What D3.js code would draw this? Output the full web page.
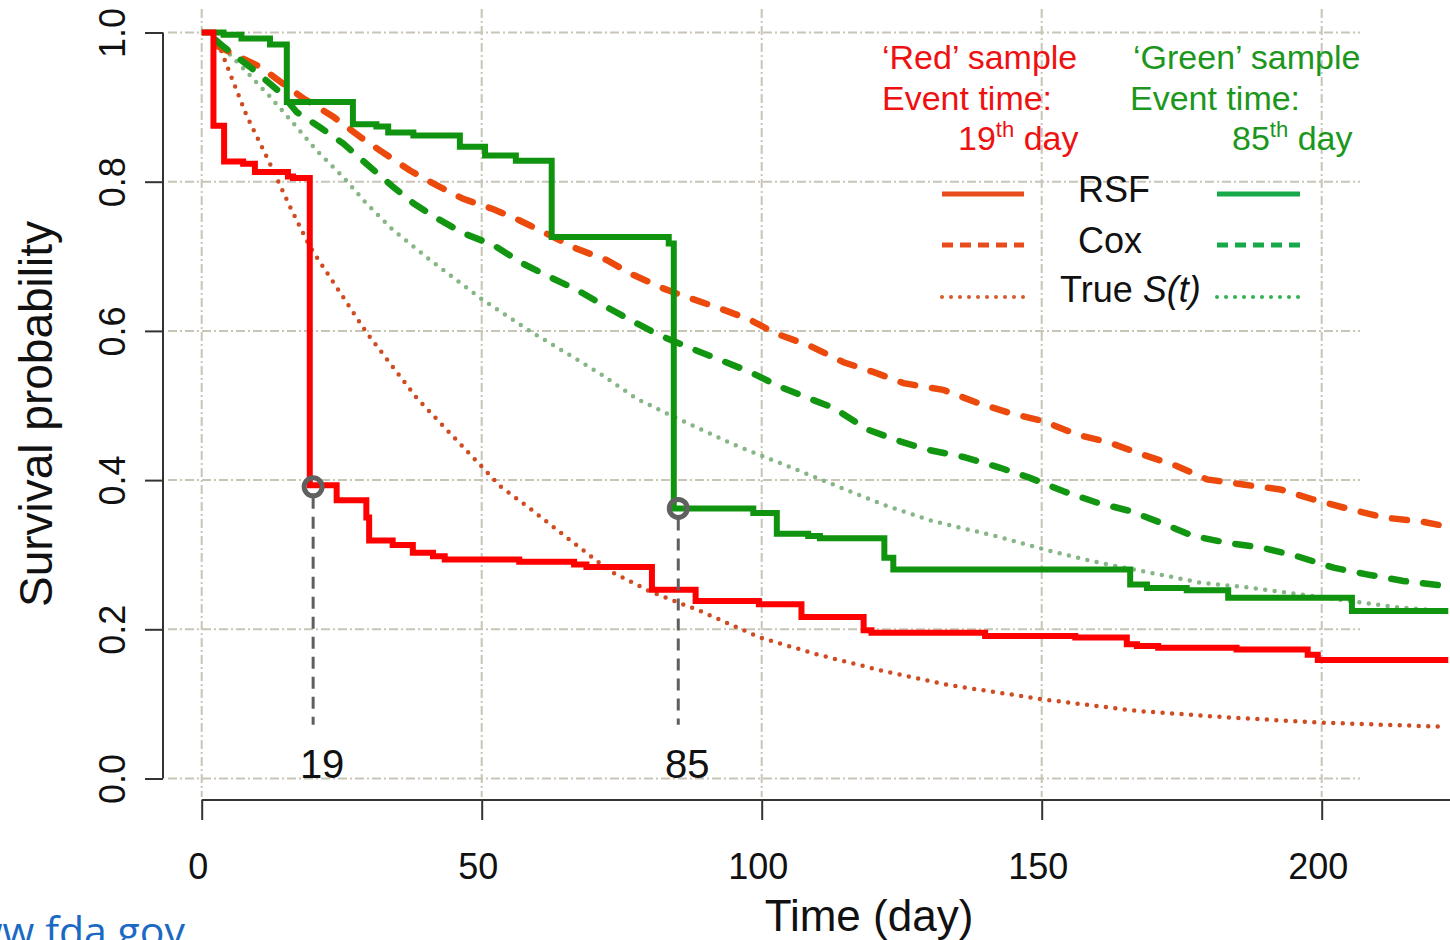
<!DOCTYPE html>
<html>
<head>
<meta charset="utf-8">
<script src="https://cdn.jsdelivr.net/npm/d3@7"></script>
<style>
  html, body { margin: 0; padding: 0; background: #ffffff; overflow: hidden; }
  svg { display: block; font-family: "Liberation Sans", Arial, sans-serif; }
</style>
</head>
<body>
<svg id="chart" width="1450" height="940"></svg>
<script>
// ---------- DATA ----------
const xTicks = [0, 50, 100, 150, 200];
const xTickLabels = ["0", "50", "100", "150", "200"];
const yTicks = [0, 0.2, 0.4, 0.6, 0.8, 1.0];
const yTickLabels = ["0.0", "0.2", "0.4", "0.6", "0.8", "1.0"];

// RSF step curves: [day, survival] knots (step-after)
const rsfRed = [[0,1.0],[2.1,0.875],[4.0,0.827],[7.4,0.824],[9.5,0.813],[15.4,0.807],[16.3,0.805],
  [19.3,0.393],[24.1,0.373],[29.4,0.35],[29.9,0.319],[34.1,0.313],[37.7,0.3025],[41.3,0.298],[43.4,0.2935],
  [56.7,0.2906],[66.5,0.287],[68.7,0.2835],[80.4,0.253],[88.2,0.238],[99.5,0.2335],[107.1,0.2165],
  [118.2,0.1987],[119.6,0.1955],[139.9,0.191],[156,0.189],[165.2,0.18],[167,0.1777],[170.8,0.1754],
  [184.8,0.173],[197.5,0.166],[199.3,0.159],[222.6,0.159]];
const rsfGreen = [[0,1.0],[3.9,0.997],[7.1,0.992],[12.2,0.984],[15.2,0.907],[27,0.877],[31.2,0.874],
  [33.3,0.866],[37.8,0.862],[46.1,0.847],[50.6,0.835],[56.1,0.828],[62.5,0.726],[83.4,0.717],[84.3,0.362],
  [98.5,0.356],[102.7,0.328],[108.3,0.325],[110.4,0.322],[121.9,0.296],[123.5,0.28],[165.8,0.26],
  [168.8,0.2554],[175.9,0.2522],[183.3,0.2424],[205.4,0.2246],[222.6,0.2246]];

// Cox curves
const coxRed = [[2.5,0.985],[3,0.981],[10.4,0.954],[18.1,0.912],[23.5,0.887],[28.3,0.86],[31.8,0.842],
  [37.2,0.815],[42,0.795],[46.7,0.777],[52.1,0.763],[56.8,0.748],[62.2,0.728],[67,0.71],[72.3,0.695],
  [77.1,0.675],[82.4,0.657],[86,0.647],[92.6,0.63],[97.9,0.615],[102.7,0.596],[108.6,0.58],[114.6,0.558],
  [119.9,0.545],[125.3,0.53],[132.4,0.521],[138.4,0.504],[144.3,0.49],[150.3,0.479],[156.3,0.461],
  [162.2,0.45],[168.1,0.434],[174.1,0.419],[179.5,0.401],[186,0.394],[192.6,0.3875],[198.5,0.374],
  [205,0.361],[211,0.35],[218.1,0.344],[222.3,0.338]];
const coxGreen = [[2.5,0.99],[3.9,0.981],[8.6,0.954],[14,0.92],[17,0.893],[21.1,0.873],[25.3,0.851],
  [29.4,0.824],[34.2,0.793],[37.8,0.771],[42,0.751],[46.7,0.731],[52.1,0.715],[57.4,0.69],[62.2,0.672],
  [67,0.655],[72.3,0.632],[77.7,0.61],[81.8,0.594],[86.6,0.579],[92.6,0.561],[97.9,0.545],[103.3,0.525],
  [108.6,0.509],[112.8,0.497],[118.8,0.468],[124.7,0.452],[129.5,0.441],[136,0.431],[142.6,0.4165],
  [147.9,0.403],[153.9,0.385],[159.8,0.37],[165.8,0.3585],[171.2,0.343],[177.1,0.325],[183.1,0.316],
  [189.6,0.309],[195.6,0.298],[202.1,0.2826],[208,0.2737],[214.6,0.2647],[222.3,0.258]];

// True S(t)
const trueRed = [[2.5,0.985],[3.3,0.979],[5.05,0.945],[8,0.889],[12.2,0.824],[15.8,0.766],[19.3,0.713],
  [29.5,0.597],[38.4,0.51],[53.3,0.392],[59.2,0.3585],[65.2,0.323],[72.9,0.278],[80,0.251],[89,0.2246],
  [99.7,0.189],[109.8,0.1665],[121.7,0.144],[133.6,0.125],[150.3,0.106],[167,0.0906],[183.6,0.0817],
  [199.7,0.075],[222.3,0.0692]];
const trueGreen = [[2.7,0.989],[7.4,0.952],[12.2,0.914],[16.4,0.878],[20.5,0.842],[25.3,0.806],
  [29.4,0.771],[34.2,0.735],[40.8,0.695],[50.3,0.641],[59.2,0.597],[65.2,0.57],[71.1,0.543],[77.7,0.509],
  [84.8,0.483],[94.9,0.448],[103.9,0.421],[112.8,0.394],[121.7,0.367],[130.6,0.345],[142.3,0.324],
  [151.5,0.305],[160.4,0.289],[169.3,0.276],[178.3,0.2625],[187.2,0.2558],[196.1,0.247],[205,0.238],
  [214,0.229],[222.3,0.2246]];

// Event markers
const eventLabels = ["19", "85"];
const eventDays = [19.9, 85.1];
const eventSurv = [0.391, 0.362];
const eventLineBottom = 0.072;

// ---------- DRAWING ----------
const svg = d3.select("#chart");
const x = d3.scaleLinear().domain([0, 200]).range([201.7, 1321.7]);
const y = d3.scaleLinear().domain([0, 1]).range([778.5, 32.5]);

const gridColor = "#c8c4b6";
const gridDash = "9,3,2,3";

// Grid
const grid = svg.append("g");
grid.selectAll("line.v").data(xTicks).join("line")
  .attr("x1", d => x(d)).attr("x2", d => x(d)).attr("y1", 9).attr("y2", 797)
  .attr("stroke", gridColor).attr("stroke-width", 2).attr("stroke-dasharray", gridDash);
grid.selectAll("line.h").data(yTicks).join("line")
  .attr("x1", 168).attr("x2", 1360).attr("y1", d => y(d)).attr("y2", d => y(d))
  .attr("stroke", gridColor).attr("stroke-width", 2).attr("stroke-dasharray", gridDash);

// Axes
const xAxis = svg.append("g").attr("transform", "translate(0,800)")
  .call(d3.axisBottom(x).tickValues(xTicks).tickSize(20).tickSizeOuter(0)
    .tickFormat((d, i) => xTickLabels[i]));
xAxis.select(".domain").remove();
xAxis.append("line").attr("x1", x(0)).attr("x2", 1450).attr("y1", 0).attr("y2", 0)
  .attr("stroke", "#333").attr("stroke-width", 2);
xAxis.selectAll(".tick line").attr("stroke", "#333").attr("stroke-width", 2);
xAxis.selectAll(".tick text").attr("y", 79).attr("dy", 0).attr("x", -4)
  .attr("font-size", 36).attr("fill", "#111")
  .attr("font-family", "'Liberation Sans', Arial, sans-serif");

const yAxis = svg.append("g").attr("transform", "translate(163,0)")
  .call(d3.axisLeft(y).tickValues(yTicks).tickSize(18).tickSizeOuter(0)
    .tickFormat((d, i) => yTickLabels[i]));
yAxis.select(".domain").remove();
yAxis.append("line").attr("x1", 0).attr("x2", 0).attr("y1", y(1)).attr("y2", y(0))
  .attr("stroke", "#333").attr("stroke-width", 2);
yAxis.selectAll(".tick line").attr("stroke", "#333").attr("stroke-width", 2);
yAxis.selectAll(".tick text").attr("x", null).attr("dy", 0)
  .attr("transform", "translate(-38,0) rotate(-90)").attr("text-anchor", "middle")
  .attr("font-size", 36).attr("fill", "#111")
  .attr("font-family", "'Liberation Sans', Arial, sans-serif");

// Axis titles
svg.append("text").attr("x", 869).attr("y", 931).attr("text-anchor", "middle")
  .attr("font-size", 44).attr("fill", "#111").text("Time (day)");
svg.append("text").attr("transform", "translate(52,414) rotate(-90)").attr("text-anchor", "middle")
  .attr("font-size", 46).attr("fill", "#111").text("Survival probability");

// Lines
const lineLin = d3.line().x(d => x(d[0])).y(d => y(d[1]));
const lineStep = d3.line().x(d => x(d[0])).y(d => y(d[1])).curve(d3.curveStepAfter);

const curves = svg.append("g").attr("fill", "none");
curves.append("path").datum(trueRed).attr("d", lineLin)
  .attr("stroke", "#cf4b22").attr("stroke-width", 4.5).attr("stroke-linecap", "round")
  .attr("stroke-dasharray", "0,9.5");
curves.append("path").datum(trueGreen).attr("d", lineLin)
  .attr("stroke", "#86b586").attr("stroke-width", 4.5).attr("stroke-linecap", "round")
  .attr("stroke-dasharray", "0,9.5");
curves.append("path").datum(coxRed).attr("d", lineLin)
  .attr("stroke", "#ec4a0c").attr("stroke-width", 6.5).attr("stroke-linecap", "round")
  .attr("stroke-dasharray", "15,17");
curves.append("path").datum(coxGreen).attr("d", lineLin)
  .attr("stroke", "#129612").attr("stroke-width", 6.5).attr("stroke-linecap", "round")
  .attr("stroke-dasharray", "15,17");
curves.append("path").datum(rsfGreen).attr("d", lineStep)
  .attr("stroke", "#109410").attr("stroke-width", 6);
curves.append("path").datum(rsfRed).attr("d", lineStep)
  .attr("stroke", "#ff0000").attr("stroke-width", 6);

// Event markers
const ev = svg.append("g");
eventDays.forEach((d, i) => {
  ev.append("line").attr("x1", x(d)).attr("x2", x(d))
    .attr("y1", y(eventSurv[i]) + 10).attr("y2", y(eventLineBottom))
    .attr("stroke", "#5f5f5f").attr("stroke-width", 3).attr("stroke-dasharray", "12,8");
  ev.append("circle").attr("cx", x(d)).attr("cy", y(eventSurv[i])).attr("r", 9)
    .attr("fill", "none").attr("stroke", "#606060").attr("stroke-width", 5);
  ev.append("text").attr("x", x(d) + 9).attr("y", 778).attr("text-anchor", "middle")
    .attr("font-size", 40).attr("fill", "#111").text(eventLabels[i]);
});

// Legend (annotation block)
const redTxt = "#ee1111", greenTxt = "#1c961c";
const leg = svg.append("g").attr("font-size", 34);
leg.append("text").attr("x", 882).attr("y", 69).attr("fill", redTxt).text("\u2018Red\u2019 sample");
leg.append("text").attr("x", 882).attr("y", 110).attr("fill", redTxt).text("Event time:");
const r3 = leg.append("text").attr("x", 958).attr("y", 150).attr("fill", redTxt);
r3.append("tspan").text("19");
r3.append("tspan").attr("font-size", 22).attr("dy", -13).text("th");
r3.append("tspan").attr("dy", 13).text(" day");

leg.append("text").attr("x", 1133).attr("y", 69).attr("fill", greenTxt).text("\u2018Green\u2019 sample");
leg.append("text").attr("x", 1130).attr("y", 110).attr("fill", greenTxt).text("Event time:");
const g3 = leg.append("text").attr("x", 1232).attr("y", 150).attr("fill", greenTxt);
g3.append("tspan").text("85");
g3.append("tspan").attr("font-size", 22).attr("dy", -13).text("th");
g3.append("tspan").attr("dy", 13).text(" day");

const legNames = ["RSF", "Cox"];
const legY = [194, 245, 297];
const legDash = [null, "11,7", "0,9"];
const legWidth = [5, 5, 4];
const legRedCol = ["#e84c1c", "#e84c1c", "#d9582a"];
const legGreenCol = ["#17a84a", "#17a84a", "#2fb24f"];
legY.forEach((yy, i) => {
  leg.append("line").attr("x1", 942).attr("x2", 1024).attr("y1", yy).attr("y2", yy)
    .attr("stroke", legRedCol[i]).attr("stroke-width", legWidth[i])
    .attr("stroke-linecap", i === 2 ? "round" : "butt")
    .attr("stroke-dasharray", legDash[i]);
  leg.append("line").attr("x1", 1217).attr("x2", 1300).attr("y1", yy).attr("y2", yy)
    .attr("stroke", legGreenCol[i]).attr("stroke-width", legWidth[i])
    .attr("stroke-linecap", i === 2 ? "round" : "butt")
    .attr("stroke-dasharray", legDash[i]);
});
legNames.forEach((n, i) => {
  leg.append("text").attr("x", 1078).attr("y", legY[i] + 8).attr("font-size", 36)
    .attr("fill", "#111").text(n);
});
const tt = leg.append("text").attr("x", 1060).attr("y", legY[2] + 5).attr("font-size", 36).attr("fill", "#111");
tt.append("tspan").text("True ");
tt.append("tspan").attr("font-style", "italic").text("S(t)");

// Source text (cut at the page edges, as in the reference)
svg.append("text").attr("x", 185).attr("y", 946).attr("text-anchor", "end")
  .attr("font-family", "'Open Sans', 'Noto Sans', sans-serif").attr("font-size", 41)
  .attr("fill", "#1a6ac4").text("www.fda.gov");
</script>
</body>
</html>
